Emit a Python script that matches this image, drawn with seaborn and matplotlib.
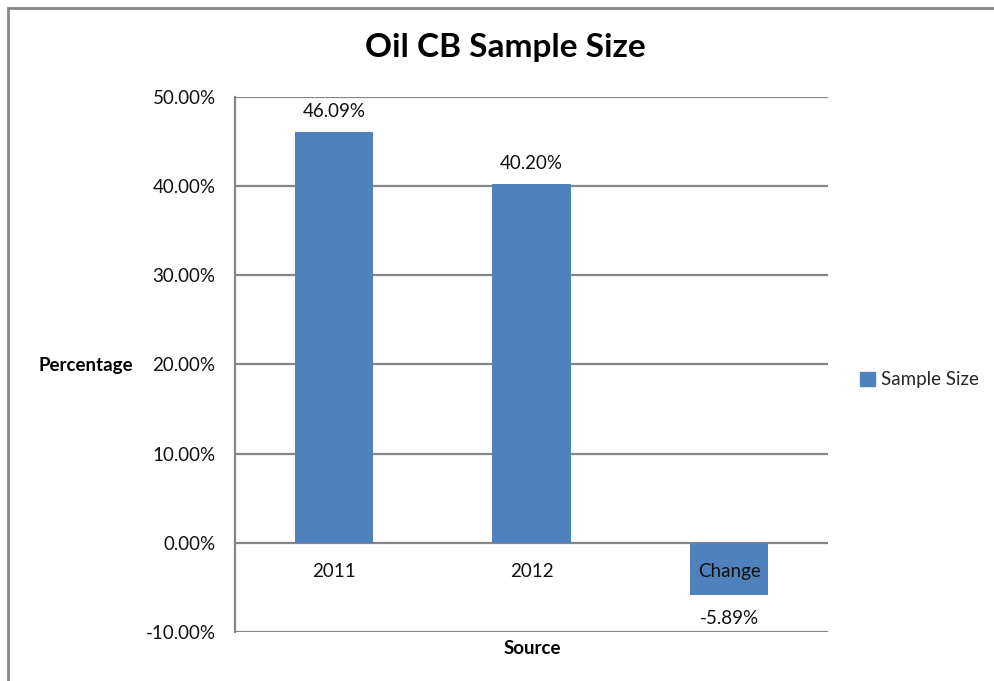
import matplotlib
matplotlib.use("Agg")
import matplotlib.pyplot as plt
import matplotlib.patches as mpatches
import seaborn as sns
import pandas as pd

categories = ["2011", "2012", "Change"]
values = [46.09, 40.20, -5.89]
yticks = [-10, 0, 10, 20, 30, 40, 50]
series_name = "Sample Size"

bar_color = "#4F81BD"
grid_color = "#868686"
fs = 13.5

sns.set_theme(style="white")
plt.rcParams["font.family"] = ["Lato", "DejaVu Sans"]

df = pd.DataFrame({"Source": categories, "Percentage": values})

fig = plt.figure(figsize=(9.95, 6.81), dpi=100)
ax = fig.add_axes([0.2362, 0.0720, 0.5960, 0.7856])

sns.barplot(data=df, x="Source", y="Percentage", color=bar_color,
            width=0.395, saturation=1, linewidth=0, ax=ax, zorder=3)

ax.set_xlim(-0.5, 2.5)
ax.set_ylim(-10, 50)
ax.set_yticks(yticks)
ax.set_yticklabels([f"{t:.2f}%" for t in yticks], fontsize=fs, color="#111111")
ax.tick_params(axis="y", length=0, pad=14)
ax.set_xticks([])
ax.set_xlabel("")
ax.set_ylabel("")

for t in yticks:
    ax.axhline(t, color=grid_color, lw=1.6, zorder=1, solid_capstyle="butt")

for side in ["top", "right", "bottom"]:
    ax.spines[side].set_visible(False)
ax.spines["left"].set_color(grid_color)
ax.spines["left"].set_linewidth(1.6)

# category names just under the zero line
for i, name in enumerate(categories):
    ax.annotate(name, xy=(i, 0), xytext=(0, -21), textcoords="offset points",
                ha="center", va="center", fontsize=fs, color="#111111", zorder=5)

# value labels above positive bars, below negative ones
for i, v in enumerate(values):
    off = 15 if v >= 0 else -17
    ax.annotate(f"{v:.2f}%", xy=(i, v), xytext=(0, off), textcoords="offset points",
                ha="center", va="center", fontsize=fs, color="#111111", zorder=5)

fig.text(0.5075, 1 - 48 / 681, "Oil CB Sample Size", ha="center", va="center",
         fontsize=24, fontweight="bold", color="black")
fig.text(86 / 995, 1 - 366 / 681, "Percentage", ha="center", va="center",
         fontsize=fs, fontweight="bold", color="black")
fig.text(532 / 995, 1 - 648 / 681, "Source", ha="center", va="center",
         fontsize=fs, fontweight="bold", color="black")

handle = mpatches.Patch(color=bar_color, label=series_name)
fig.legend(handles=[handle], loc="center left", bbox_to_anchor=(860 / 995, 1 - 380 / 681),
           frameon=False, fontsize=fs, handlelength=0.8, handleheight=0.8,
           handletextpad=0.3, borderaxespad=0, borderpad=0)

# chart-area border
fig.patches.append(mpatches.Rectangle((8 / 995, -0.05), 1.0, 1 - 8 / 681 + 0.05,
                                      transform=fig.transFigure, fill=False,
                                      edgecolor=grid_color, lw=2))

fig.savefig("out.png", dpi=100, facecolor="white")
